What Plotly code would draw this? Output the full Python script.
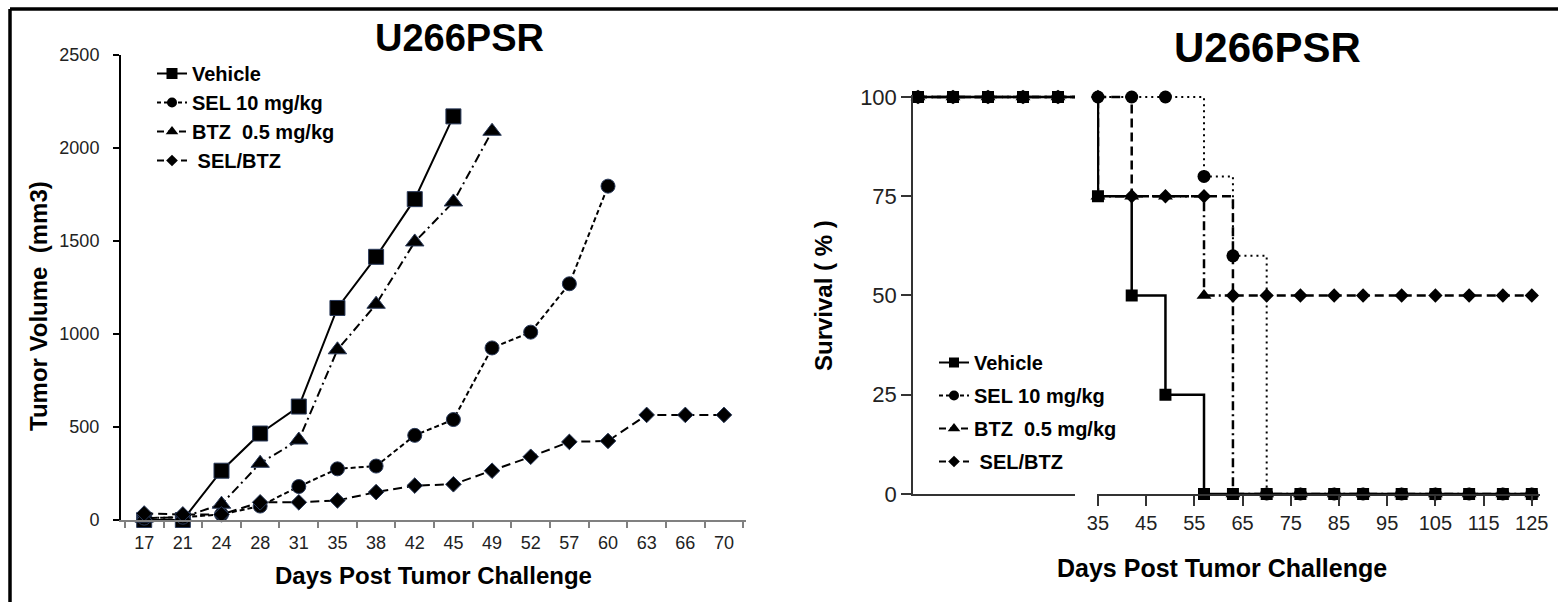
import plotly.graph_objects as go

W, H = 1558, 602

# ---------------- Left chart data (tumor volume) ----------------
tumor_days = ['17', '21', '24', '28', '31', '35', '38', '42', '45', '49', '52', '57', '60', '63', '66', '70']
vehicle_vol = [0, 0, 265, 465, 610, 1140, 1415, 1725, 2170]
sel_vol = [10, 15, 30, 75, 180, 275, 290, 455, 540, 925, 1010, 1270, 1795]
btz_vol = [10, 15, 85, 305, 430, 915, 1160, 1495, 1710, 2090]
selbtz_vol = [35, 30, 30, 95, 95, 105, 150, 185, 192, 265, 340, 420, 425, 565, 565, 565]
vol_ticks = [0, 500, 1000, 1500, 2000, 2500]

# ---------------- Right chart data (survival) ----------------
surv_days = [0, 7, 14, 21, 28, 35, 42, 49, 57, 63, 70, 77, 84, 90, 98, 105, 112, 119, 125]
vehicle_surv = [100, 100, 100, 100, 100, 75, 50, 25, 0, 0, 0, 0, 0, 0, 0, 0, 0, 0, 0]
sel_surv = [100, 100, 100, 100, 100, 100, 100, 100, 80, 60, 0, 0, 0, 0, 0, 0, 0, 0, 0]
btz_surv = [100, 100, 100, 100, 100, 75, 75, 75, 50, 0, 0, 0, 0, 0, 0, 0, 0, 0, 0]
selbtz_surv = [100, 100, 100, 100, 100, 100, 75, 75, 75, 50, 50, 50, 50, 50, 50, 50, 50, 50, 50]
surv_ticks = [0, 25, 50, 75, 100]
day_ticks = [35, 45, 55, 65, 75, 85, 95, 105, 115, 125]

names = ['Vehicle', 'SEL 10 mg/kg', 'BTZ  0.5 mg/kg', ' SEL/BTZ']


def fx(px):
    return px / W


def fy(py):
    return 1 - py / H


FONT = 'Liberation Sans, Arial, sans-serif'

fig = go.Figure()

# ---- left chart traces ----
left_styles = [
    dict(dash='solid', symbol='square', size=15, lsize=11, ldash='solid'),
    dict(dash='5px,3px', symbol='circle', size=14, lsize=10, ldash='4px,3px'),
    dict(dash='9px,4px,2px,4px', symbol='triangle-up', size=16, lsize=11, ldash='7px,4px'),
    dict(dash='9px,5px', symbol='diamond', size=12, lsize=9, ldash='7px,5px'),
]
left_vals = [vehicle_vol, sel_vol, btz_vol, selbtz_vol]
for i, (vals, st) in enumerate(zip(left_vals, left_styles)):
    fig.add_trace(go.Scatter(
        x=tumor_days[:len(vals)], y=vals, name=names[i], mode='lines+markers',
        line=dict(color='black', width=2, dash=st['dash']),
        marker=dict(symbol=st['symbol'], size=st['size'], color='black',
                    line=dict(color='#2a3a5a', width=1)),
        cliponaxis=False, xaxis='x', yaxis='y', showlegend=False))
    # legend entry (no data drawn)
    fig.add_trace(go.Scatter(
        x=[None], y=[None], name=names[i], mode='lines+markers',
        line=dict(color='black', width=2, dash=st['ldash']),
        marker=dict(symbol=st['symbol'], size=st['lsize'], color='black'),
        xaxis='x', yaxis='y', legend='legend', legendgroup='L%d' % i, legendrank=i + 1))

# ---- right chart traces ----
right_styles = [
    dict(dash='solid', symbol='square', size=12, width=2.5, lsize=10, ldash='solid'),
    dict(dash='2px,4px', symbol='circle', size=13, width=2, lsize=10, ldash='4px,3px'),
    dict(dash='9px,4px,2px,4px', symbol='triangle-up', size=13, width=2.5, lsize=11, ldash='7px,4px'),
    dict(dash='9px,5px', symbol='diamond', size=11, width=2.5, lsize=9, ldash='7px,5px'),
]
right_vals = [vehicle_surv, sel_surv, btz_surv, selbtz_surv]
order = [3, 2, 0, 1]  # drawing order (SEL circles on top)
for i in order:
    vals, st = right_vals[i], right_styles[i]
    for xa in ('x2', 'x3'):
        fig.add_trace(go.Scatter(
            x=surv_days, y=vals, name=names[i], mode='lines+markers',
            line=dict(color='black', width=st['width'], dash=st['dash'], shape='hv'),
            marker=dict(symbol=st['symbol'], size=st['size'], color='black'),
            cliponaxis=False, xaxis=xa, yaxis='y2', showlegend=False))
for i in range(4):
    st = right_styles[i]
    fig.add_trace(go.Scatter(
        x=[None], y=[None], name=names[i], mode='lines+markers',
        line=dict(color='black', width=2, dash=st['ldash']),
        marker=dict(symbol=st['symbol'], size=st['lsize'], color='black'),
        xaxis='x3', yaxis='y2', legend='legend2', legendgroup='R%d' % i, legendrank=i + 1))

axis_common = dict(showgrid=False, zeroline=False, automargin=False)

fig.update_layout(
    width=W, height=H,
    margin=dict(l=0, r=0, t=0, b=0),
    paper_bgcolor='white', plot_bgcolor='white',
    font=dict(family=FONT, color='black'),
    xaxis=dict(domain=[fx(121), fx(746)], type='category', categoryorder='array',
               categoryarray=tumor_days, range=[-0.6, 15.57], tickson='boundaries',
               ticks='outside', ticklen=6, tickwidth=2, tickcolor='#808080',
               showline=True, linecolor='#808080', linewidth=2, anchor='y',
               ticklabelstandoff=5,
               tickfont=dict(size=18, color='#222'), **axis_common),
    yaxis=dict(domain=[fy(520), fy(55)], range=[0, 2500], tickvals=vol_ticks,
               ticks='outside', ticklen=6, tickwidth=2, tickcolor='black',
               showline=True, linecolor='black', linewidth=2, anchor='x',
               ticklabelstandoff=10,
               tickfont=dict(size=18, color='#222'), **axis_common),
    xaxis2=dict(domain=[fx(913), fx(1075)], range=[-1, 31.4], anchor='y2',
                showline=True, linecolor='#333', linewidth=1.5, ticks='',
                showticklabels=False, **axis_common),
    xaxis3=dict(domain=[fx(1097), fx(1540)], range=[34.8, 126.7], anchor='y2',
                tickvals=day_ticks, ticks='outside', ticklen=10, tickwidth=1.5,
                tickcolor='#333', showline=True, linecolor='#333', linewidth=1.5,
                tickfont=dict(size=20, color='#222'), **axis_common),
    yaxis2=dict(domain=[fy(494), fy(95)], range=[0, 100.5], anchor='x2',
                tickvals=surv_ticks, ticks='outside', ticklen=10, tickwidth=1.5,
                tickcolor='#333', showline=True, linecolor='#333', linewidth=1.5,
                tickfont=dict(size=22, color='#222'), **axis_common),
    legend=dict(x=fx(152), y=fy(54), xanchor='left', yanchor='top',
                font=dict(size=20, family=FONT, weight='bold'),
                bgcolor='rgba(0,0,0,0)', traceorder='grouped', tracegroupgap=0),
    legend2=dict(x=fx(934), y=fy(343), xanchor='left', yanchor='top',
                 font=dict(size=20, family=FONT, weight='bold'),
                 bgcolor='rgba(0,0,0,0)', traceorder='grouped', tracegroupgap=4),
    showlegend=True,
)

ann = [
    dict(text='<b>U266PSR</b>', x=fx(459), y=fy(38), font=dict(size=38)),
    dict(text='<b>U266PSR</b>', x=fx(1267), y=fy(47), font=dict(size=42)),
    dict(text='<b>Days Post Tumor Challenge</b>', x=fx(433), y=fy(575), font=dict(size=24)),
    dict(text='<b>Tumor Volume  (mm3)</b>', x=fx(38), y=fy(306), font=dict(size=24), textangle=-90),
    dict(text='<b>Days Post Tumor Challenge</b>', x=fx(1222), y=fy(568), font=dict(size=25)),
    dict(text='<b>Survival ( % )</b>', x=fx(823), y=fy(296), font=dict(size=24), textangle=-90),
]
for a in ann:
    fig.add_annotation(xref='paper', yref='paper', showarrow=False,
                       xanchor='center', yanchor='middle', **a)

# image frame (top and left borders)
fig.add_shape(type='line', xref='paper', yref='paper', x0=fx(10), x1=1, y0=fy(9), y1=fy(9),
              line=dict(color='black', width=3.5))
fig.add_shape(type='line', xref='paper', yref='paper', x0=fx(10), x1=fx(10), y0=fy(9), y1=0,
              line=dict(color='black', width=3.5))

fig.write_html('out.html', config={'displayModeBar': False},
               post_script="document.body.style.margin='0px';document.body.style.overflow='hidden';")
